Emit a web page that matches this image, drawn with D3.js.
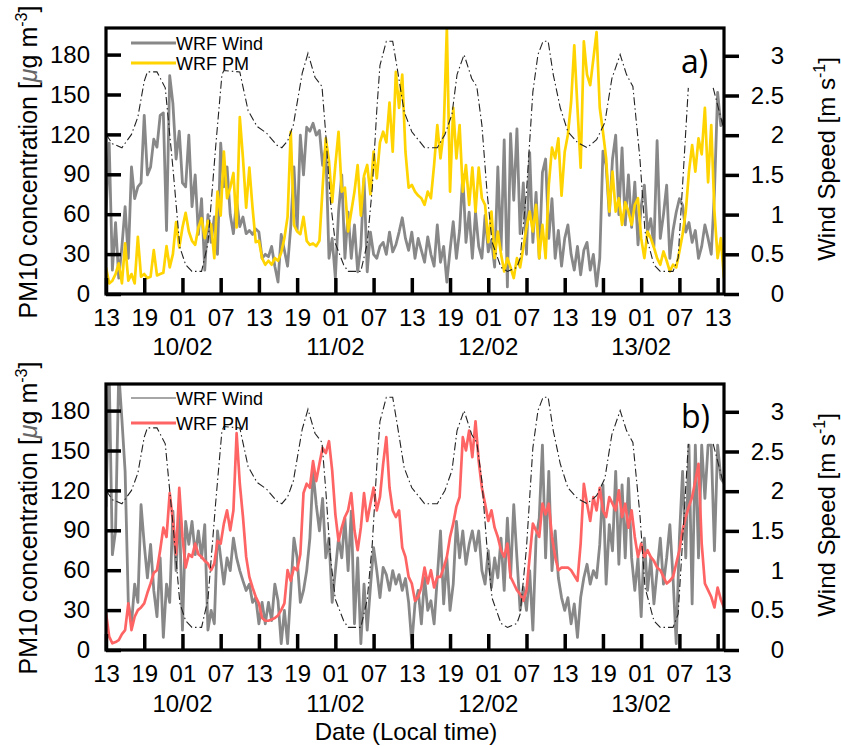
<!DOCTYPE html>
<html>
<head>
<meta charset="utf-8">
<script src="https://cdn.jsdelivr.net/npm/d3@7"></script>
<style>
  body { margin: 0; background: #fff; }
  svg { display: block; font-family: "Liberation Sans", Arial, sans-serif; }
</style>
</head>
<body>
<div id="chart"></div>
<script>
///////////////////////////////////////////
// Data (half-hourly samples from 13h on 09/02)
///////////////////////////////////////////
var step = 0.5;      // hours between two samples
var startHour = 13;  // local hour of the first sample

// panel a) wind speed [m/s]
var windA = [
  1.0, 1.9, 0.3, 0.9, 0.2, 0.6, 1.1, 0.45, 1.6, 1.2, 1.35, 1.4, 2.25,
  1.5, 1.6, 1.95, 1.85, 2.25, 2.28, 0.8, 2.75, 2.4, 1.7, 2.05, 1.4,
  1.35, 2.0, 1.1, 1.5, 0.75, 1.2, 0.3, 1.0, 0.65, 0.97, 0.5, 1.9,
  1.35, 1.6, 1.0, 0.76, 1.18, 0.85, 0.97, 0.76, 0.8, 0.75, 0.82, 0.78,
  0.45, 0.5, 0.47, 0.6, 0.35, 0.15, 0.75, 0.55, 0.35, 0.85, 1.6, 0.8,
  2.0, 1.5, 2.1, 2.05, 2.15, 2.0, 2.06, 1.62, 1.85, 0.45, 0.7, 0.2,
  1.03, 1.5, 0.45, 1.03, 0.45, 0.87, 0.28, 0.6, 1.46, 0.28, 0.78, 0.5,
  0.45, 0.6, 0.65, 0.5, 0.78, 0.53, 0.62, 0.78, 0.96, 0.7, 0.55, 0.78,
  0.45, 0.7, 0.55, 0.4, 0.72, 0.5, 0.35, 0.87, 0.4, 0.6, 0.15, 0.55,
  0.91, 0.45, 0.8, 1.5, 0.65, 1.03, 0.45, 1.03, 0.6, 0.45, 0.99, 0.53,
  0.68, 0.34, 1.6, 0.55, 1.94, 0.09, 2.02, 1.18, 2.08, 0.76, 1.4, 0.5,
  1.78, 0.65, 1.28, 0.45, 1.53, 1.7, 0.7, 1.2, 0.45, 0.8, 0.35, 0.7,
  0.87, 0.5, 0.3, 0.6, 0.24, 0.55, 0.65, 0.3, 0.5, 0.1, 0.45, 1.8,
  1.62, 0.99, 1.7, 2.0, 1.0, 1.84, 0.87, 1.5, 0.84, 1.41, 0.62, 1.1,
  1.37, 0.78, 0.95, 0.6, 1.93, 0.7, 1.0, 1.37, 0.45, 0.8, 1.03, 1.2,
  1.12, 0.78, 0.9, 0.65, 0.8, 0.45, 0.6, 0.87, 0.7, 0.5, 1.28, 2.54,
  2.12, 2.2
];

// panel a) PM10 [ug/m3]
var pmA = [
  20, 8, 10, 15, 23, 8, 38, 10, 15, 8, 43, 13, 15,
  12, 13, 33, 14, 15, 16, 36, 20, 30, 54, 35, 50,
  61, 47, 40, 37, 50, 57, 42, 55, 52, 27, 77, 59,
  107, 72, 80, 91, 50, 133, 102, 65, 95, 65, 39, 40,
  27, 22, 25, 22, 27, 25, 31, 42, 58, 122, 52, 47,
  45, 58, 40, 37, 38, 36, 40, 80, 117, 100, 69, 97,
  122, 77, 80, 47, 62, 77, 97, 59, 89, 97, 75, 107,
  87, 114, 122, 114, 144, 107, 167, 140, 165, 107, 80, 82,
  77, 74, 72, 67, 77, 72, 97, 127, 102, 122, 200, 77,
  140, 102, 127, 77, 97, 67, 95, 62, 95, 72, 67, 39,
  62, 27, 47, 30, 17, 27, 20, 12, 27, 20, 35, 50,
  62, 47, 67, 27, 52, 27, 82, 110, 102, 117, 74, 107,
  120, 144, 187, 140, 95, 190, 165, 157, 177, 197, 140, 122,
  102, 62, 92, 62, 72, 52, 69, 62, 52, 67, 72, 42,
  27, 47, 42, 35, 27, 22, 32, 25, 17, 22, 20, 32,
  45, 62, 92, 112, 92, 117, 105, 140, 84, 127, 62, 27,
  42, 12
];

// panel b) wind speed [m/s]
var windB = [
  1.8, 3.5, 1.2, 1.5, 3.5, 2.9, 2.25, 0.6, 0.33, 0.83, 0.6, 1.83, 1.33,
  0.91, 1.33, 0.75, 0.42, 1.16, 0.16, 0.83, 0.6, 1.75, 1.0, 1.83, 0.25,
  1.62, 1.33, 1.62, 1.2, 1.5, 1.16, 1.58, 0.25, 0.5, 0.33, 1.5, 1.16,
  0.83, 1.16, 1.0, 1.41, 1.16, 1.0, 0.87, 0.75, 0.83, 0.6, 0.66, 0.33,
  0.6, 0.33, 0.6, 0.37, 0.83, 0.62, 0.08, 0.5, 0.08, 0.75, 1.41, 1.16,
  0.6, 0.75, 1.0, 1.41, 2.25, 1.83, 1.5, 1.91, 1.16, 1.41, 0.6, 1.0,
  1.41, 1.16, 1.66, 1.0, 1.75, 0.33, 1.16, 0.08, 0.83, 0.25, 0.79, 1.29,
  1.0, 0.66, 1.04, 0.95, 0.75, 1.0, 0.83, 0.95, 0.75, 0.9, 0.6, 0.08,
  0.58, 0.75, 0.33, 0.91, 0.5, 0.62, 0.33, 0.91, 1.5, 0.58, 1.16, 0.5,
  0.83, 1.62, 1.16, 1.5, 1.08, 1.33, 1.5, 1.25, 1.5, 1.0, 0.83, 1.25,
  0.79, 1.16, 0.91, 1.41, 0.75, 1.66, 0.91, 1.83, 1.16, 0.5, 0.79, 0.5,
  1.0, 0.25, 1.41, 1.66, 2.58, 1.16, 2.25, 1.0, 1.5, 0.91, 0.66, 0.5,
  0.66, 0.33, 0.58, 0.16, 0.66, 0.91, 1.08, 0.83, 1.0, 0.91, 1.33, 2.08,
  0.83, 1.58, 1.25, 2.25, 1.08, 2.08, 1.16, 2.16, 1.16, 0.75, 1.16, 0.42,
  1.41, 0.75, 1.16, 0.58, 1.0, 1.41, 0.83, 1.16, 1.58, 0.91, 0.08, 1.41,
  2.25, 1.16, 2.58, 0.58, 2.58, 1.16, 2.58, 1.91, 2.58, 2.58, 1.25, 2.58,
  2.16, 2.1
];

// panel b) PM10 [ug/m3]
var pmB = [
  28, 10, 5, 6, 7.5, 12, 15, 35, 15, 25, 30, 32, 35,
  43, 50, 58, 60, 75, 92, 85, 118, 97, 72, 122, 85,
  62, 72, 70, 80, 72, 70, 67, 65, 60, 65, 82, 80,
  95, 105, 90, 105, 163, 125, 100, 70, 55, 47, 40, 35,
  24, 22, 22, 23, 24, 26, 30, 35, 60, 52, 62, 60,
  72, 118, 125, 122, 142, 127, 140, 152, 148, 157, 135, 102,
  82, 92, 100, 105, 118, 90, 75, 92, 118, 97, 110, 122,
  105, 115, 140, 160, 122, 105, 100, 105, 77, 70, 55, 50,
  37, 40, 47, 62, 50, 60, 47, 55, 55, 62, 70, 85,
  95, 108, 115, 160, 150, 165, 145, 172, 142, 122, 110, 97,
  105, 92, 85, 75, 70, 80, 55, 50, 45, 42, 37, 45,
  70, 95, 90, 85, 110, 102, 110, 85, 70, 60, 62, 62,
  62, 60, 56, 52, 80, 125, 110, 97, 115, 105, 122, 105,
  100, 115, 110, 105, 120, 100, 110, 92, 105, 85, 70, 80,
  70, 75, 70, 67, 62, 60, 55, 50, 52, 55, 65, 75,
  90, 100, 108, 115, 127, 140, 80, 50, 45, 40, 32, 47,
  38, 32
];

// dash-dot reference curve (same in both panels), PM10 scale
var obsHours = [0, 1, 2.5, 4, 5, 6, 6.5, 8, 9.3, 10.5, 11.6, 12.5, 13.5, 15, 16, 17.2, 18.2, 18.5, 21, 22.3,
  23.7, 25.2, 26.8, 27.6, 28.5, 29.4, 30.8, 31.7, 32.8, 33.9, 34.5, 35.2, 36, 37.3, 38, 40, 41, 41.8, 42.5, 43,
  44, 45, 45.8, 46.8, 48, 50, 52, 53.2, 54.3, 55.1, 56.2, 57.4, 58.2, 59, 59.8, 60.6, 62, 63, 64.5, 65,
  66, 67, 67.8, 68.6, 69.4, 70.2, 71.3, 72.5, 74, 75.5, 77, 78.3, 79.4, 80.7, 81.7, 82.7, 83.8, 84.6, 86, 87,
  89, 89.8, 90.6, 91.4, 93, 95.3, 96.7, 97];
var obsPM = [120, 113, 110, 120, 133, 160, 167, 167, 155, 95, 35, 22, 17, 17, 38, 110, 165, 168, 167, 138,
  126, 121, 112, 110, 115, 127, 166, 181, 163, 156, 120, 71, 38, 22, 17, 17, 38, 80, 138, 172,
  190, 190, 167, 137, 122, 110, 110, 120, 135, 165, 180, 162, 156, 127, 77, 39, 20, 17, 20, 27,
  77, 152, 180, 190, 190, 165, 140, 122, 114, 110, 116, 129, 162, 180, 165, 156, 102, 47, 22, 17,
  17, 27, 90, 155, null, 155, 129, 125];

var pmTicks = [0, 30, 60, 90, 120, 150, 180];
var windTicks = [0, 0.5, 1, 1.5, 2, 2.5, 3];
var hourTicks = d3.range(0, 97, 6);
var dateTicks = [12, 36, 60, 84];
var dateLabels = ["10/02", "11/02", "12/02", "13/02"];

///////////////////////////////////////////
// Layout
///////////////////////////////////////////
var width = 841, height = 746;
var plotLeft = 106, plotRight = 724, plotH = 266;

var panels = [
  { top: 28, tag: "a)", wind: windA, pm: pmA, pmColor: "#ffd400", windLegendW: 3,
    legendY: [15, 35], tagY: 45, dateY: 61 },
  { top: 384, tag: "b)", wind: windB, pm: pmB, pmColor: "#ff6464", windLegendW: 1.6,
    legendY: [14, 39], tagY: 44, dateY: 62 }
];

var svg = d3.select("#chart").append("svg")
  .attr("width", width)
  .attr("height", height);

var x = d3.scaleLinear().domain([0, 97]).range([plotLeft, plotRight]);
var yPM = d3.scaleLinear().domain([0, 200]).range([plotH, 0]);
var yWind = d3.scaleLinear().domain([0, 3.35]).range([plotH, 0]);

var windLine = d3.line()
  .x(function(d, i) { return x(i * step); })
  .y(function(d) { return yWind(d); });
var pmLine = d3.line()
  .x(function(d, i) { return x(i * step); })
  .y(function(d) { return yPM(d); });
var obsLine = d3.line()
  .defined(function(d) { return d[1] != null; })
  .x(function(d) { return x(d[0]); })
  .y(function(d) { return yPM(d[1]); });
var obsPairs = obsHours.map(function(h, i) { return [h, obsPM[i]]; });

function styleAxis(g) {
  g.attr("font-size", 24).attr("font-family", null);
  g.select(".domain").remove();
  g.selectAll(".tick line").attr("stroke", "#000").attr("stroke-width", 3.5);
  g.selectAll(".tick text").attr("fill", "#000");
}

panels.forEach(function(p, k) {
  var g = svg.append("g").attr("transform", "translate(0," + p.top + ")");

  g.append("clipPath").attr("id", "clip" + k)
    .append("rect")
    .attr("x", plotLeft).attr("y", 0)
    .attr("width", plotRight - plotLeft).attr("height", plotH);

  var data = g.append("g").attr("clip-path", "url(#clip" + k + ")");

  data.append("path")
    .attr("d", windLine(p.wind))
    .attr("fill", "none")
    .attr("stroke", "#888")
    .attr("stroke-width", 2.8)
    .attr("stroke-linejoin", "round");

  data.append("path")
    .attr("d", pmLine(p.pm))
    .attr("fill", "none")
    .attr("stroke", p.pmColor)
    .attr("stroke-width", 2.7)
    .attr("stroke-linejoin", "round");

  data.append("path")
    .attr("d", obsLine(obsPairs))
    .attr("fill", "none")
    .attr("stroke", "#222")
    .attr("stroke-width", 1.1)
    .attr("stroke-dasharray", "8,3,1.5,3");

  // axes
  g.append("g")
    .attr("transform", "translate(0," + plotH + ")")
    .call(d3.axisBottom(x).tickValues(hourTicks).tickSize(-16).tickPadding(15)
      .tickFormat(function(h) { return String((startHour + h) % 24).padStart(2, "0"); }))
    .call(styleAxis);

  g.append("g")
    .attr("transform", "translate(" + plotLeft + ",0)")
    .call(d3.axisLeft(yPM).tickValues(pmTicks).tickSize(-15).tickPadding(16))
    .call(styleAxis);

  var right = g.append("g")
    .attr("transform", "translate(" + plotRight + ",0)")
    .call(d3.axisRight(yWind).tickValues(windTicks).tickSize(15)
      .tickFormat(function(d) { return String(d); }))
    .call(styleAxis);
  right.attr("text-anchor", "end");
  right.selectAll(".tick text").attr("x", 60);

  // frame
  g.append("rect")
    .attr("x", plotLeft).attr("y", 0)
    .attr("width", plotRight - plotLeft).attr("height", plotH)
    .attr("fill", "none")
    .attr("stroke", "#000")
    .attr("stroke-width", 3.2);

  // dates under the 01h ticks
  g.selectAll(".dateLabel")
    .data(dateTicks)
    .enter().append("text")
    .attr("class", "dateLabel")
    .attr("x", function(d) { return x(d); })
    .attr("y", plotH + p.dateY)
    .attr("text-anchor", "middle")
    .attr("font-size", 24)
    .text(function(d, i) { return dateLabels[i]; });

  // legend
  var legend = [
    { name: "WRF Wind", color: "#888", w: p.windLegendW },
    { name: "WRF PM", color: p.pmColor, w: 3 }
  ];
  legend.forEach(function(l, i) {
    var ly = p.legendY[i];
    g.append("line")
      .attr("x1", 131).attr("x2", 176)
      .attr("y1", ly).attr("y2", ly)
      .attr("stroke", l.color)
      .attr("stroke-width", l.w);
    g.append("text")
      .attr("x", 176).attr("y", ly + 7)
      .attr("font-size", 18)
      .text(l.name);
  });

  // panel tag
  g.append("text")
    .attr("x", 681).attr("y", p.tagY)
    .attr("font-family", "'Open Sans', sans-serif")
    .attr("font-size", 32)
    .text(p.tag);

  // left title
  var lt = g.append("text")
    .attr("transform", "translate(37," + (plotH / 2 + 1) + ") rotate(-90)")
    .attr("text-anchor", "middle")
    .attr("font-size", 25);
  lt.append("tspan").text("PM10 concentration [");
  lt.append("tspan").attr("fill", "#666").attr("font-style", "italic").text("\u03bc");
  lt.append("tspan").text("g m");
  lt.append("tspan").attr("dy", -10).attr("font-size", 16).text("-3");
  lt.append("tspan").attr("dy", 10).text("]");

  // right title
  var rt = g.append("text")
    .attr("transform", "translate(835," + (plotH / 2 - 2) + ") rotate(-90)")
    .attr("text-anchor", "middle")
    .attr("font-size", 24);
  rt.append("tspan").text("Wind Speed [m s");
  rt.append("tspan").attr("dy", -10).attr("font-size", 16).text("-1");
  rt.append("tspan").attr("dy", 10).text("]");
});

svg.append("text")
  .attr("x", 406).attr("y", 740)
  .attr("text-anchor", "middle")
  .attr("font-size", 24)
  .text("Date (Local time)");
</script>
</body>
</html>
